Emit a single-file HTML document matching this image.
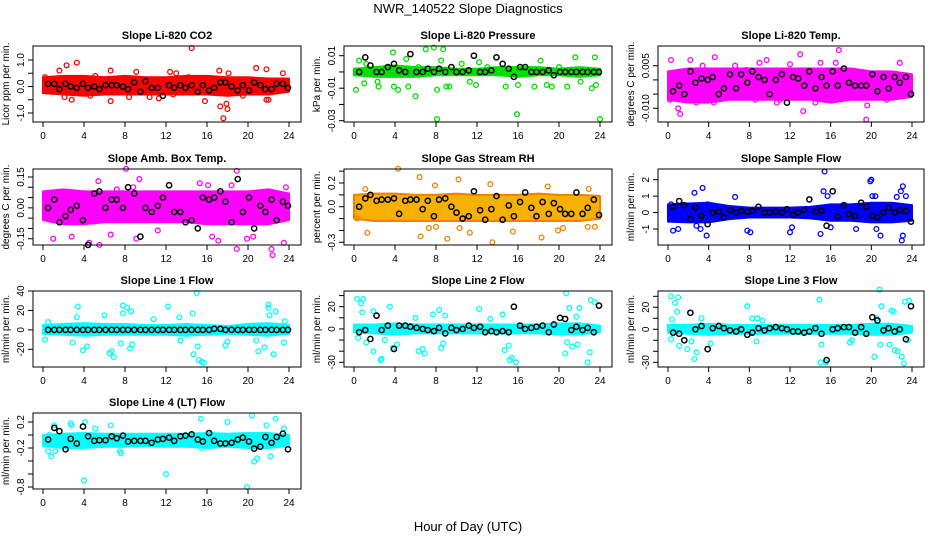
<!DOCTYPE html>
<html><head><meta charset="utf-8">
<style>
html,body{margin:0;padding:0;background:#fff;}
svg{display:block;font-family:"Liberation Sans",Arial,sans-serif;}
</style></head>
<body>
<svg id="chart" width="936" height="540" viewBox="0 0 936 540" xmlns="http://www.w3.org/2000/svg">
<text x="468" y="13" text-anchor="middle" font-size="13">NWR_140522  Slope Diagnostics</text>
<text x="468" y="531" text-anchor="middle" font-size="13">Hour of Day (UTC)</text>
</svg>
<script>
const NS="http://www.w3.org/2000/svg";
const svg=document.getElementById('chart');
const xTicks=[0,4,8,12,16,20,24];
const blackHours=[0.5,1.1,1.6,2.2,2.7,3.3,3.9,4.4,5,5.5,6.1,6.7,7.2,7.8,8.3,8.9,9.5,10,10.6,11.2,11.7,12.3,12.8,13.4,13.9,14.5,15.1,15.6,16.2,16.7,17.3,17.8,18.4,19,19.5,20.1,20.6,21.2,21.7,22.3,22.8,23.4,23.9];
const bandHours=[0,2,4,6,8,10,12,14,16,18,20,22,24];

const titles=["Slope Li-820 CO2","Slope Li-820 Pressure","Slope Li-820 Temp.","Slope Amb. Box Temp.","Slope Gas Stream RH","Slope Sample Flow","Slope Line 1 Flow","Slope Line 2 Flow","Slope Line 3 Flow","Slope Line 4 (LT) Flow"];
const yTitles=["Licor ppm per min.","kPa per min.","degrees C per min.","degrees C per min.","percent per min.","ml/min per min.","ml/min per min.","ml/min per min.","ml/min per min.","ml/min per min."];
const colors=["#ff0000","#00e000","#ff00ff","#ff00ff","#f0a000","#0000ff","#00ffff","#00ffff","#00ffff","#00ffff"];
const yTickVals=[[-1,-0.5,0,0.5,1],[-0.03,-0.02,-0.01,0,0.01],[-0.01,-0.005,0,0.005],[-0.15,-0.1,-0.05,0,0.05,0.1,0.15],[-0.3,-0.2,-0.1,0,0.1,0.2,0.3],[-1,0,1,2],[-20,0,20,40],[-30,-20,-10,0,10,20,30],[-30,-20,-10,0,10,20,30],[-0.8,-0.6,-0.4,-0.2,0,0.2]];
const yTickLabels=[[[-1,"-1.0"],[0,"0.0"],[1,"1.0"]],[[-0.03,"-0.03"],[-0.01,"-0.01"],[0.01,"0.01"]],[[-0.01,"-0.010"],[0.005,"0.005"]],[[-0.15,"-0.15"],[0,"0.00"],[0.15,"0.15"]],[[-0.3,"-0.3"],[0,"0.0"],[0.2,"0.2"]],[[-1,"-1"],[0,"0"],[1,"1"],[2,"2"]],[[-20,"-20"],[0,"0"],[20,"20"],[40,"40"]],[[-30,"-30"],[0,"0"],[20,"20"]],[[-30,"-30"],[0,"0"],[20,"20"]],[[-0.8,"-0.8"],[-0.2,"-0.2"],[0.2,"0.2"]]];

const bandLow=[
[-0.25,-0.3,-0.35,-0.3,-0.3,-0.3,-0.3,-0.3,-0.3,-0.35,-0.3,-0.3,-0.2],
[-0.002,-0.003,-0.003,-0.003,-0.002,-0.002,-0.002,-0.002,-0.003,-0.002,-0.002,-0.003,-0.002],
[-0.007,-0.008,-0.008,-0.007,-0.007,-0.007,-0.007,-0.007,-0.008,-0.007,-0.007,-0.007,-0.006],
[-0.06,-0.08,-0.08,-0.07,-0.07,-0.07,-0.07,-0.07,-0.08,-0.08,-0.08,-0.08,-0.06],
[-0.1,-0.12,-0.12,-0.12,-0.12,-0.12,-0.12,-0.12,-0.12,-0.12,-0.12,-0.12,-0.1],
[-0.55,-0.6,-0.6,-0.4,-0.3,-0.3,-0.3,-0.35,-0.5,-0.5,-0.6,-0.6,-0.5],
[-4,-5,-6,-5,-5,-5,-5,-6,-5,-4,-5,-6,-4],
[-3,-4,-5,-4,-4,-4,-4,-4,-4,-4,-5,-5,-3],
[-3,-4,-5,-4,-4,-4,-4,-4,-4,-4,-5,-5,-3],
[-0.17,-0.2,-0.2,-0.18,-0.18,-0.17,-0.18,-0.18,-0.2,-0.18,-0.2,-0.2,-0.17]];
const bandHigh=[
[0.35,0.4,0.4,0.35,0.4,0.35,0.35,0.4,0.4,0.35,0.35,0.3,0.3],
[0.002,0.003,0.004,0.003,0.003,0.002,0.002,0.003,0.003,0.003,0.002,0.003,0.002],
[0.003,0.004,0.004,0.004,0.004,0.004,0.004,0.004,0.004,0.004,0.003,0.003,0.002],
[0.08,0.09,0.08,0.08,0.08,0.08,0.08,0.08,0.08,0.08,0.08,0.09,0.07],
[0.1,0.11,0.11,0.1,0.1,0.11,0.1,0.1,0.1,0.11,0.1,0.1,0.09],
[0.5,0.55,0.6,0.4,0.3,0.3,0.3,0.35,0.5,0.5,0.6,0.6,0.45],
[5,6,7,6,6,5,5,6,5,4,6,7,5],
[4,4,5,4,4,4,4,4,4,4,5,5,3],
[4,4,5,4,4,4,4,4,4,4,5,5,3],
[0.0,0.02,0.03,0.02,0.02,0.02,0.02,0.02,0.03,0.02,0.03,0.03,0.0]];

const outliers=[
[[2.3,0.8],[3.3,0.9],[1.6,0.6],[2.1,-0.4],[2.8,-0.5],[6.6,0.6],[6.6,-0.55],[9.1,0.55],[8.4,-0.4],[10.4,-0.4],[12.4,0.55],[13,0.5],[14.5,1.45],[14.2,0.35],[15.8,-0.55],[17.2,0.6],[17.3,-0.75],[17.6,-1.2],[17.9,-0.65],[18.0,-0.85],[18.1,0.5],[20.8,0.7],[21.8,0.65],[21.8,-0.5],[22.0,-0.5],[23.4,0.5],[11.3,-0.45],[5.1,0.4],[0.2,0.35],[19.5,-0.35],[12.7,-0.3],[4.6,-0.35]],
[[0.2,-0.011],[0.5,0.007],[1.2,0.005],[1.0,-0.007],[2.3,-0.006],[2.4,-0.009],[3.8,0.012],[3.9,-0.009],[4.3,-0.011],[5.1,0.008],[5.3,-0.009],[6.0,-0.015],[6.3,0.003],[7.0,0.014],[7.8,0.015],[8.1,-0.029],[8.1,-0.011],[8.7,0.014],[8.5,0.007],[9.0,-0.009],[9.3,-0.009],[10.5,0.005],[11.3,-0.006],[11.9,-0.008],[12.2,0.006],[13.0,0.003],[14.8,-0.009],[15.9,-0.026],[16.0,-0.008],[17.6,-0.009],[18.2,0.007],[18.8,-0.008],[19.3,-0.009],[20.0,0.003],[20.8,-0.009],[21.6,0.009],[22.1,-0.006],[23.2,-0.01],[23.5,0.009],[24,-0.029],[23.6,-0.008]],
[[0.3,0.007],[2.2,0.007],[3.4,0.005],[4.6,0.008],[1.0,-0.01],[1.2,-0.012],[2.8,-0.008],[4.5,-0.008],[6.6,0.005],[7.7,0.0035],[9.0,0.006],[9.7,0.007],[10.7,-0.008],[13.0,0.009],[13.3,-0.011],[14.5,-0.008],[15.0,0.006],[16.5,0.006],[16.8,0.0105],[17.3,-0.006],[19.6,-0.009],[19.5,-0.014],[21.5,-0.007],[22.8,0.006],[0.2,-0.007],[8.6,-0.007],[11.0,-0.007],[12.0,0.0055],[18.7,0.002]],
[[1.0,-0.15],[5.4,0.13],[4.5,-0.17],[5.5,-0.18],[7.2,0.09],[8.1,0.19],[8.8,0.1],[9.4,0.14],[9.1,-0.15],[15.3,0.12],[16.1,0.11],[16.5,-0.14],[17.1,-0.16],[18.4,0.11],[18.9,0.18],[18.9,-0.2],[22.3,-0.2],[22.4,-0.23],[23.5,-0.17],[23.7,0.1],[2.8,-0.14],[6.6,-0.13],[11.2,-0.11],[20.5,-0.14],[19.9,-0.15]],
[[4.3,0.32],[6.4,0.25],[10.2,0.23],[13.3,0.19],[7.9,0.18],[1.1,0.15],[8.0,-0.17],[7.3,-0.18],[6.5,-0.25],[11.3,-0.22],[9.1,-0.27],[13.5,-0.3],[15.5,-0.21],[18.3,-0.26],[19.9,-0.2],[20.4,-0.18],[22.9,0.15],[22.8,-0.17],[23.5,-0.17],[1.3,-0.22],[18.9,0.17],[10.3,-0.18],[0.3,-0.1]],
[[0.5,-1.1],[1.0,-1.0],[2.6,1.2],[3.4,1.5],[3.2,-1.0],[3.8,-1.4],[2.8,-0.8],[6.6,0.95],[7.8,-1.1],[8.1,-1.2],[12.0,-1.2],[12.2,-0.9],[15.0,-1.3],[15.4,2.5],[15.3,1.3],[15.7,1.0],[16.0,-0.9],[18.5,-1.0],[19.9,1.9],[20.0,2.0],[20.1,1.0],[20.4,1.0],[20.9,-1.4],[20.5,-1.0],[22.9,1.3],[23.1,1.6],[23.0,-1.7],[23.1,-1.4],[23.4,1.0],[22.5,0.95],[3.9,0.5],[0.3,0.5]],
[[0.2,-10],[3.4,24],[3.3,13],[2.9,-13],[3.9,-21],[4.3,-17],[6.0,15],[6.5,-24],[6.7,-22],[6.9,-28],[7.8,25],[7.8,17],[8.2,23],[8.6,19],[8.5,-19],[8.7,-15],[7.6,-14],[10.8,11],[12.2,24],[13.3,13],[13.4,-11],[14.6,17],[14.7,-25],[15.0,38],[15.1,-17],[15.2,-31],[15.5,-33],[15.7,-34],[17.8,-16],[18.0,-12],[21.0,-22],[21.6,-18],[22.0,26],[22.0,23],[22.1,15],[22.5,-25],[22.7,19],[23.5,-13],[23.6,9],[20.8,-11],[0.5,8]],
[[0.3,27],[0.7,23],[0.9,27],[0.8,15],[0.4,-8],[1.2,-12],[1.9,16],[1.9,-20],[2.6,-28],[2.7,-27],[3.0,-10],[3.5,20],[3.8,-17],[4.2,-14],[6.0,10],[6.3,-20],[6.7,-18],[6.9,-22],[7.7,13],[8.3,17],[8.5,-17],[8.7,-13],[8.9,12],[12.2,18],[13.3,9],[14.5,13],[14.7,-19],[15.1,-15],[15.2,-28],[15.4,-26],[15.8,-30],[20.6,-22],[20.7,32],[21.0,19],[20.8,-12],[21.3,-16],[21.7,11],[21.8,-14],[22.0,19],[22.8,-30],[23.0,-21],[23.1,26],[23.5,24]],
[[0.3,30],[0.3,-9],[0.4,9],[0.7,24],[0.9,16],[1.0,29],[1.1,-15],[1.9,-18],[2.3,-11],[2.6,-27],[2.8,-21],[3.3,10],[4.2,-13],[7.8,21],[8.3,10],[8.7,-11],[8.8,10],[9.3,8],[14.9,27],[15.1,-14],[15.0,-30],[15.5,-30],[17.9,-12],[18.1,-10],[20.3,-25],[20.5,10],[20.8,36],[20.9,-14],[21.0,21],[21.8,-14],[22.0,17],[22.2,16],[22.3,-19],[22.6,-20],[23.0,-25],[23.2,-31],[23.3,25],[23.7,26],[23.6,-10]],
[[0.5,-0.25],[0.8,-0.33],[1.2,-0.25],[1.1,0.15],[2.7,0.18],[2.8,0.15],[4.0,-0.7],[4.1,0.2],[5.1,0.1],[6.6,0.15],[7.5,-0.25],[7.6,-0.28],[12.0,-0.6],[15.4,0.25],[15.5,-0.2],[18.0,0.2],[19.9,-0.8],[20.4,0.3],[20.6,-0.41],[20.9,-0.36],[21.8,0.15],[22.2,-0.33],[22.7,0.25],[23.5,0.1],[0.6,0.0]]];

const blackVals=[
[0.1,0.1,-0.1,0.1,0,-0.05,0.1,-0.05,0,-0.1,0.05,0.05,0.05,0,-0.1,0.15,-0.2,0.2,-0.05,-0.05,-0.35,0.05,-0.05,0.05,-0.05,0.05,-0.2,0.05,-0.15,-0.05,0.15,0.15,0,-0.15,0.05,-0.15,0.15,0.05,-0.1,-0.1,0.1,0.1,-0.05],
[0,0.009,0.004,0,0,0.003,0.005,0.001,0,0.011,0,0,0.002,0,0.002,0,0.003,0,0,0.001,0.01,0,0,0.001,0.009,0.005,0.002,-0.003,0.003,0.003,0,0,0,0.001,-0.002,0,0,0,0,0,0,0,0],
[-0.004,-0.002,-0.005,0.003,-0.001,0.0005,0,0.001,-0.005,-0.003,0.002,-0.003,0.002,-0.001,0.003,0.001,0,-0.005,0,0.002,-0.008,0.001,0.0005,-0.002,0.003,-0.003,0.001,-0.002,0.003,-0.002,0.004,-0.001,-0.002,-0.002,-0.002,0.002,-0.004,0.001,-0.003,0.001,-0.001,0.001,-0.005],
[0,0.04,-0.07,-0.04,-0.01,0.01,-0.06,-0.18,0.07,0.08,0,0.04,0.04,0,0.1,0.07,-0.14,0,-0.02,0.01,0.05,0.11,-0.02,-0.02,-0.07,-0.06,-0.1,0.05,0.04,0.05,0.08,0.03,-0.07,0.14,-0.02,0.05,-0.1,0.01,-0.02,0.04,-0.06,0.03,0.01],
[0,0.07,0.1,0.05,0.06,0.06,0.07,-0.06,0.05,0.06,0.06,-0.02,0.05,-0.08,0.06,0.07,0,-0.05,-0.1,-0.08,0.13,-0.03,-0.11,-0.02,0.09,-0.11,0.01,-0.08,0.04,0.12,-0.01,-0.08,0.04,-0.06,0.03,-0.02,-0.06,-0.06,0.12,-0.06,-0.01,0.06,-0.07],
[0.35,0.7,0.45,-0.4,0.3,-0.2,-0.7,0,0.05,-0.3,0.15,0,0.1,0.05,0.1,0.35,0,0,0.05,0,0.2,-0.15,0,0.15,0.8,0.05,0.1,-0.8,1.3,-0.25,0.45,-0.1,-0.2,0.6,0.35,-0.2,-0.3,0,0.3,0,0.15,0.1,-0.55],
[0,0,0,0,0,0,0,0,0,0,0,0,0,0,0,0,0,0,0,0,0,0,0,0,0,0,0,0,0,1,1,0,0,0,0,0,0,0,0,0,0,0,0],
[-3,-1,-9,12,-1,3,-18,3,3,2,1,0,-1,-2,1,-4,1,-1,0,3,1,2,-3,-2,-3,-2,-3,20,3,0,1,2,3,-3,4,10,9,-1,2,-1,1,-3,21],
[-3,-4,-10,15,0,3,-18,1,3,1,-1,-2,0,-5,-3,1,-1,1,2,1,0,-2,-2,-3,-2,1,-4,-28,0,1,2,2,-3,2,-4,11,8,-1,1,-2,0,-9,21],
[-0.07,0.11,0.06,-0.22,-0.06,-0.13,0.13,-0.02,-0.09,-0.08,-0.08,-0.02,-0.05,-0.01,-0.1,-0.09,-0.09,-0.09,-0.12,-0.07,-0.06,-0.04,-0.09,-0.02,-0.01,0.01,-0.07,-0.1,0.03,-0.09,-0.13,-0.13,-0.12,-0.07,-0.04,-0.1,-0.21,-0.18,-0.03,-0.12,-0.03,0.02,-0.22]];

const yCal=[[1,60,-1,113],[0.01,55.7,-0.03,120.7],[0.005,65.7,-0.01,108.3],[0.15,177,-0.15,238.7],[0.2,183,-0.3,242.3],[2,179.7,-1,229],[40,291,-20,349.3],[20,306.7,-30,362.3],[20,307.3,-30,362.3],[0.2,422,-0.8,487]];
const colLeft=[33,344,658], rowTop=[46,169,291,413], boxW=[268,268,266], boxH=76;

function mk(tag,attrs,parent){const e=document.createElementNS(NS,tag);for(const k in attrs)e.setAttribute(k,attrs[k]);(parent||svg).appendChild(e);return e;}
function fmt(v){return Math.round(v*100)/100;}

for(let p=0;p<10;p++){
  const col=p%3,row=Math.floor(p/3);
  const L=colLeft[col],T=rowTop[row],W=boxW[col];
  const xs=h=>L+10+h*(W-22)/24;
  const c=yCal[p];
  const ys=v=>c[1]+(v-c[0])*(c[3]-c[1])/(c[2]-c[0]);
  const g=mk('g',{});
  
  
  const t=mk('text',{x:L+W/2,y:T-7,'text-anchor':'middle','font-size':'11','font-weight':'bold'},g);
  t.textContent=titles[p];
  
  
  let pts=[];
  bandHours.forEach((h,i)=>pts.push(fmt(xs(h))+','+fmt(ys(bandHigh[p][i]))));
  for(let i=bandHours.length-1;i>=0;i--)pts.push(fmt(xs(bandHours[i]))+','+fmt(ys(bandLow[p][i])));
  const band=mk('polygon',{points:pts.join(' '),fill:colors[p],stroke:colors[p],'stroke-width':'2','stroke-linejoin':'round'},g);
  
  
  if(p===4){band.setAttribute('fill','#f5b000');band.setAttribute('stroke','#f08000');}
  outliers[p].forEach(o=>{
    const e=mk('circle',{cx:fmt(xs(o[0])),cy:fmt(ys(o[1])),r:2.4,fill:'none',stroke:p===4?'#f08000':colors[p],'stroke-width':'1.3'},g);
    
    
  });
  blackHours.forEach((h,i)=>{
    const e=mk('circle',{cx:fmt(xs(h)),cy:fmt(ys(blackVals[p][i])),r:2.6,fill:'none',stroke:'#000','stroke-width':'1.5'},g);
    
    
  });
  const b=mk('rect',{x:L,y:T,width:W,height:boxH,fill:'none',stroke:'#000','stroke-width':'1'},g);
  
  
  const B=T+boxH;
  mk('line',{x1:xs(0),x2:xs(24),y1:B,y2:B,stroke:'#000'},g);
  xTicks.forEach(h=>{
    mk('line',{x1:xs(h),x2:xs(h),y1:B,y2:B+5,stroke:'#000'},g);
    const tl=mk('text',{x:xs(h),y:B+17,'text-anchor':'middle','font-size':'10'},g);
    tl.textContent=h;
    
    
  });
  yTickVals[p].forEach(v=>{mk('line',{x1:L-5,x2:L,y1:ys(v),y2:ys(v),stroke:'#000'},g);});
  yTickLabels[p].forEach(a=>{
    const y=ys(a[0]);
    const tl=mk('text',{x:L-9,y:y,'text-anchor':'middle','font-size':'10',transform:'rotate(-90 '+(L-9)+' '+y+')'},g);
    tl.textContent=a[1];
    
    
  });
  const yt=mk('text',{x:L-24,y:T+boxH/2,'text-anchor':'middle','font-size':'10',transform:'rotate(-90 '+(L-24)+' '+(T+boxH/2)+')'},g);
  yt.textContent=yTitles[p];
  
  
}
</script>
</body></html>
